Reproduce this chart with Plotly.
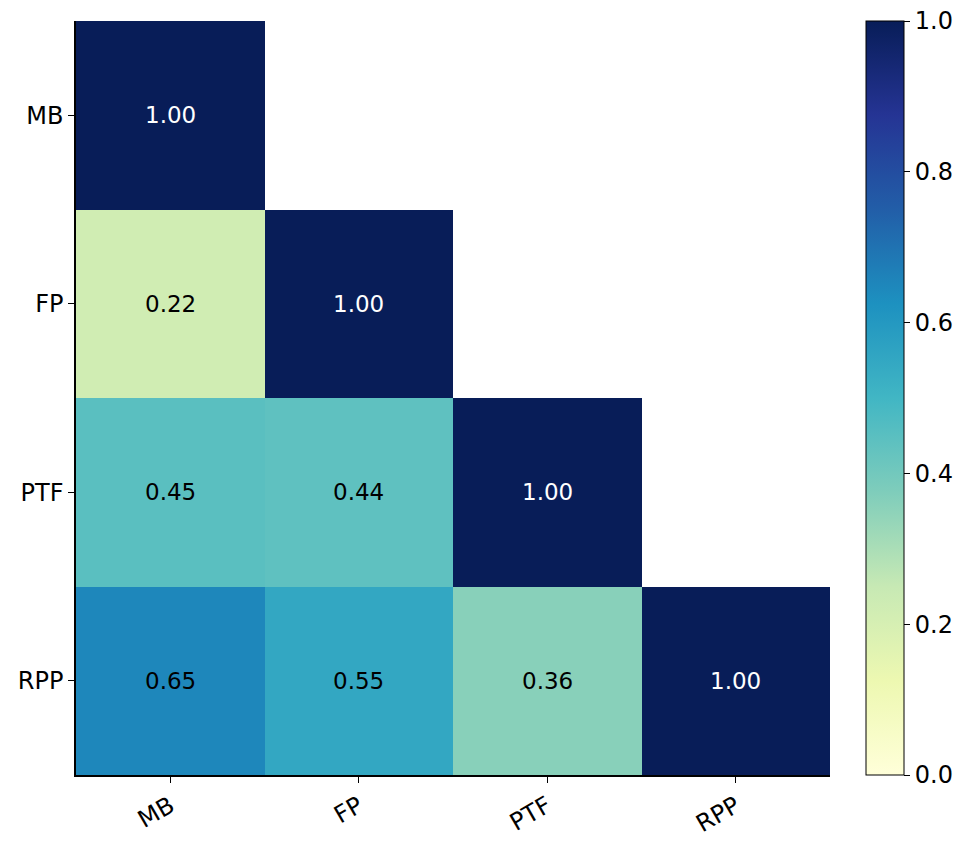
import plotly.graph_objects as go

# ── Data ───────────────────────────────────────────────────────────────────────

LABELS = ["MB", "FP", "PTF", "RPP"]

# lower-triangle correlation matrix (None = masked upper triangle)
ROW_MB  = [1.00, None, None, None]
ROW_FP  = [0.22, 1.00, None, None]
ROW_PTF = [0.45, 0.44, 1.00, None]
ROW_RPP = [0.65, 0.55, 0.36, 1.00]

CBAR_TICKS = [0.0, 0.2, 0.4, 0.6, 0.8, 1.0]

# matplotlib / ColorBrewer YlGnBu
YLGNBU = ["#ffffd9", "#edf8b1", "#c7e9b4", "#7fcdbb", "#41b6c4",
          "#1d91c0", "#225ea8", "#253494", "#081d58"]
COLORSCALE = [[i / (len(YLGNBU) - 1), c] for i, c in enumerate(YLGNBU)]

FONT = "DejaVu Sans, Arial, sans-serif"

# ── Figure ─────────────────────────────────────────────────────────────────────

z = [ROW_MB, ROW_FP, ROW_PTF, ROW_RPP]

fig = go.Figure(go.Heatmap(
    z=z, x=LABELS, y=LABELS,
    colorscale=COLORSCALE, zmin=0, zmax=1,
    hoverongaps=False,
    colorbar=dict(
        x=1.0477, xanchor="left", xpad=0,
        y=0.5, yanchor="middle", len=1, ypad=0,
        thickness=38,
        outlinecolor="black", outlinewidth=1,
        tickvals=CBAR_TICKS, tickformat=".1f",
        ticks="outside", ticklen=6, tickwidth=1, tickcolor="black",
        ticklabeloverflow="allow",
        tickfont=dict(size=24, color="black", family=FONT),
    ),
))

for i, row_name in enumerate(LABELS):
    for j, col_name in enumerate(LABELS):
        v = z[i][j]
        if v is None:
            continue
        fig.add_annotation(
            x=col_name, y=row_name, text=f"{v:.2f}", showarrow=False,
            font=dict(size=23, family=FONT, color="white" if v > 0.7 else "black"),
        )

# page body has an 8px margin, so the figure is sized to fit inside it
fig.update_layout(
    width=948, height=826,
    paper_bgcolor="white", plot_bgcolor="white",
    font=dict(family=FONT, color="black", size=24),
    margin=dict(l=68, r=126, t=13, b=59, autoexpand=False),
    xaxis=dict(
        automargin=False,
        showgrid=False, zeroline=False,
        showline=True, linecolor="black", linewidth=1.5,
        ticks="outside", ticklen=6, tickwidth=1, tickcolor="black",
        tickangle=-30, tickfont=dict(size=24),
    ),
    yaxis=dict(
        automargin=False,
        autorange="reversed",
        showgrid=False, zeroline=False,
        showline=True, linecolor="black", linewidth=1.5,
        ticks="outside", ticklen=6, tickwidth=1, tickcolor="black",
        tickfont=dict(size=24),
    ),
)

fig.write_html("out.html")
